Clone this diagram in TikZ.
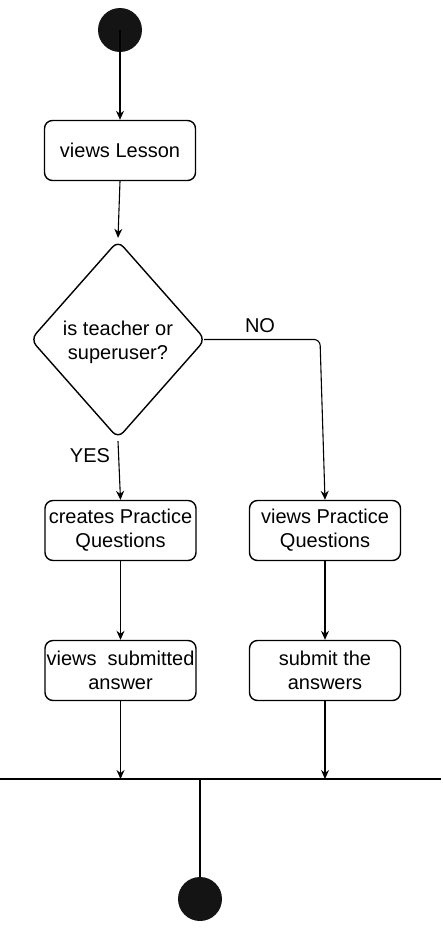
\documentclass[tikz,border=0pt]{standalone}
\usepackage{fontspec}
\setmainfont{Liberation Sans}
\usetikzlibrary{shapes.geometric,arrows.meta}
\definecolor{dotfill}{HTML}{141414}
\begin{document}
\begin{tikzpicture}[x=1pt,y=-1pt,
  every node/.style={font=\fontsize{20}{24}\selectfont, align=center},
  act/.style={draw, line width=1.4pt, rounded corners=8pt, inner sep=0pt,
    minimum width=151pt, minimum height=60pt},
  dot/.style={circle, fill=dotfill, draw=none, minimum size=44pt, inner sep=0pt},
  flow/.style={line width=1.1pt, -{Stealth[length=9pt,width=8pt,inset=3pt]}},
  plain/.style={line width=1.1pt}]
  \useasboundingbox (0,0) rectangle (442,929);

  % start and first activity
  \node[dot] (start) at (120,30) {};
  \node[act] (lesson) at (120,150.5) {views Lesson};

  % decision
  \node[draw, diamond, line width=1.4pt, rounded corners=8pt, inner sep=0pt,
        minimum width=175pt, minimum height=198pt] (dec) at (118,339.5) {};
  \node (dectext) at (118,342) {is teacher or\\superuser?};

  % the two branches
  \node[act] (cpq) at (120.5,530.5) {creates Practice\\Questions};
  \node[act] (vpq) at (325,530.5) {views Practice\\Questions};
  \node[act] (vsa) at (120.5,670.5) {views\ \ submitted\\answer};
  \node[act] (sta) at (325,670.5) {submit the\\answers};

  % join bar and final node
  \coordinate (barL) at (0,779);
  \coordinate (barR) at (441,779);
  \coordinate (barM) at (200,779);
  \node[dot] (end) at (200,899) {};

  \draw[flow] (start.center) -- (lesson.north);
  \draw[flow] (lesson.south) -- ([yshift=2pt]dec.north);
  \draw[flow] ([yshift=-2pt]dec.south) -- (cpq.north);
  \draw[flow, rounded corners=6pt] ([xshift=-2pt]dec.east) -- (320,339.5) -- (vpq.north);
  \draw[flow] (cpq.south) -- (vsa.north);
  \draw[flow] (vpq.south) -- (sta.north);
  \draw[flow] (vsa.south) -- (vsa.south |- barL);
  \draw[flow] (sta.south) -- (sta.south |- barL);
  \draw[plain] (barL) -- (barR);
  \draw[plain] (barM) -- (end.north);

  % branch labels
  \node (no) at (260,326) {NO};
  \node (yes) at (90,456) {YES};
\end{tikzpicture}
\end{document}
